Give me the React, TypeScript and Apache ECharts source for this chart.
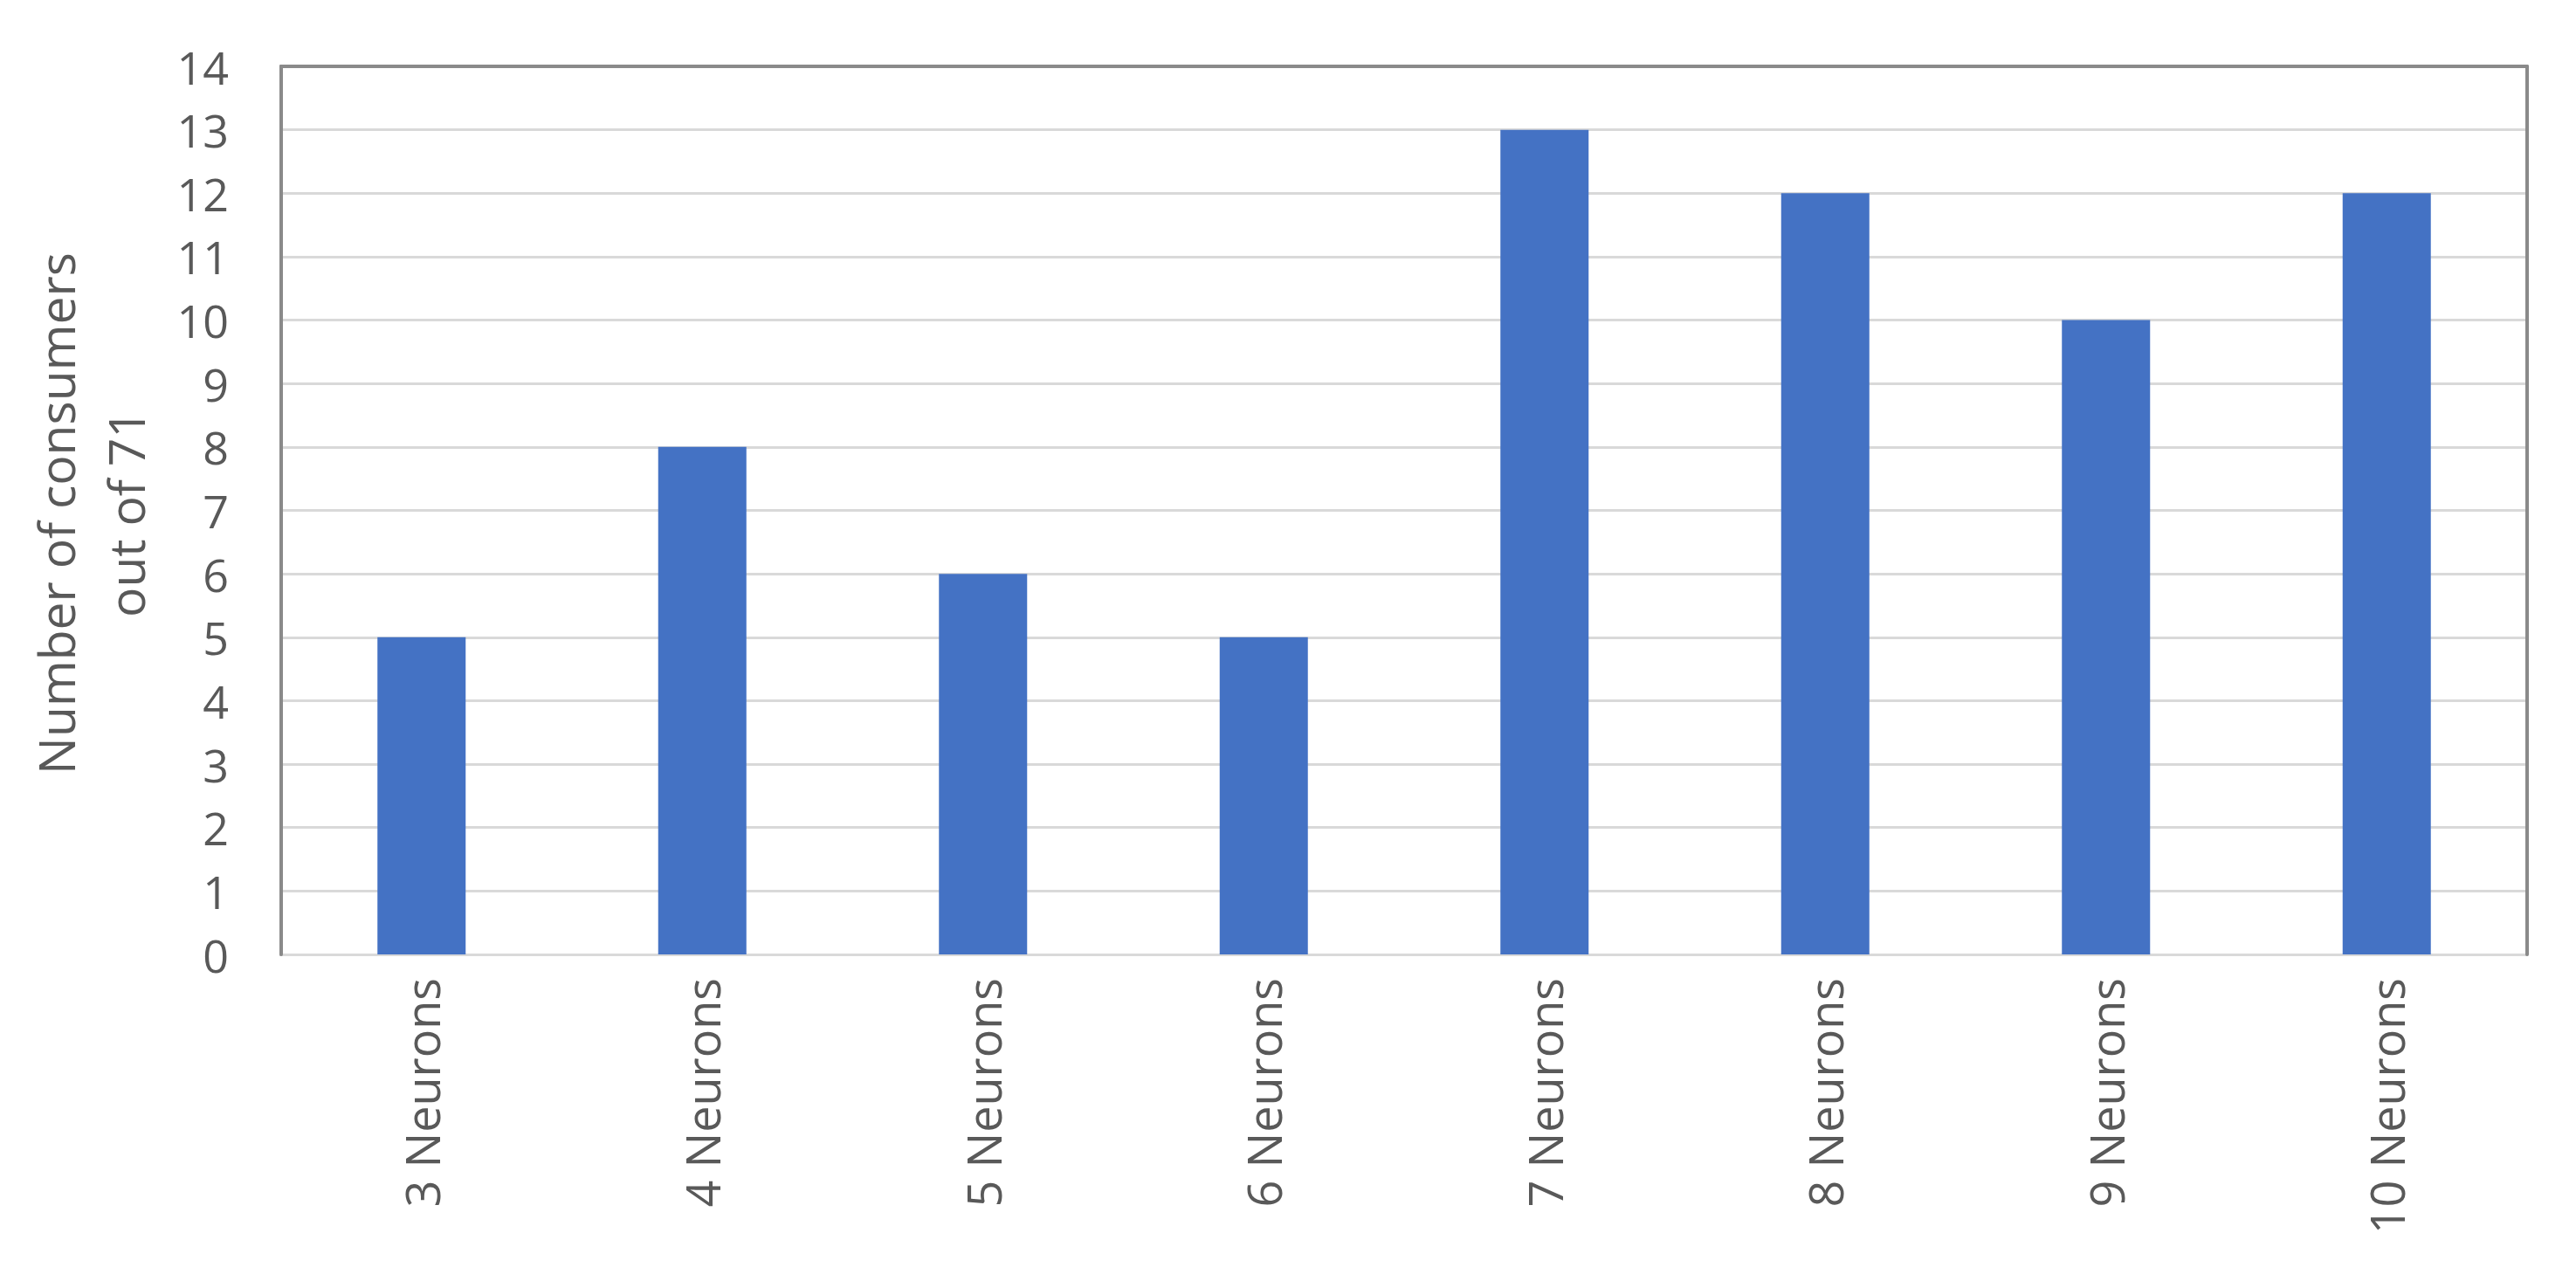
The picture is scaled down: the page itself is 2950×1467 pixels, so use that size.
import React, { useEffect, useRef } from "react";
import * as echarts from "echarts";

const categories = [
  "3 Neurons",
  "4 Neurons",
  "5 Neurons",
  "6 Neurons",
  "7 Neurons",
  "8 Neurons",
  "9 Neurons",
  "10 Neurons",
];
const consumers = [5, 8, 6, 5, 13, 12, 10, 12];
const yTitleLines = ["Number of consumers", "out of 71"];

const FONT = "Open Sans";
const TEXT = "#595959";

export default function App() {
  const ref = useRef<HTMLDivElement>(null);
  useEffect(() => {
    if (!ref.current) return;
    const chart = echarts.init(ref.current, undefined, { renderer: "svg" });
    chart.setOption({
      animation: false,
      backgroundColor: "#ffffff",
      grid: { left: 322, right: 56, top: 76, bottom: 374, containLabel: false },
      xAxis: [
        {
          type: "category",
          data: categories,
          position: "bottom",
          axisLine: { show: true, lineStyle: { color: "#D9D9D9", width: 3 } },
          axisTick: { show: false },
          axisLabel: {
            rotate: 90,
            margin: 27,
            color: TEXT,
            fontFamily: FONT,
            fontSize: 54,
          },
        },
        {
          type: "category",
          data: categories,
          position: "top",
          z: 10,
          axisLine: {
            show: true,
            onZero: false,
            lineStyle: { color: "#8A8A8A", width: 4 },
          },
          axisTick: { show: false },
          axisLabel: { show: false },
        },
      ],
      yAxis: [
        {
          type: "value",
          min: 0,
          max: 14,
          interval: 1,
          position: "left",
          axisLine: { show: true, lineStyle: { color: "#8A8A8A", width: 4 } },
          axisTick: { show: false },
          splitLine: { show: true, lineStyle: { color: "#D9D9D9", width: 3 } },
          axisLabel: {
            margin: 60,
            color: TEXT,
            fontFamily: FONT,
            fontSize: 52,
          },
        },
        {
          type: "value",
          min: 0,
          max: 14,
          interval: 1,
          position: "right",
          z: 10,
          axisLine: { show: true, lineStyle: { color: "#8A8A8A", width: 4 } },
          axisTick: { show: false },
          splitLine: { show: false },
          axisLabel: { show: false },
        },
        {
          type: "value",
          min: 0,
          max: 14,
          interval: 1,
          position: "left",
          z: 10,
          axisLine: { show: true, lineStyle: { color: "#8A8A8A", width: 4 } },
          axisTick: { show: false },
          splitLine: { show: false },
          axisLabel: { show: false },
        },
      ],
      series: [
        {
          type: "bar",
          data: consumers,
          xAxisIndex: 0,
          yAxisIndex: 0,
          barWidth: 101,
          itemStyle: { color: "#4472C4" },
          z: 3,
        },
      ],
      graphic: [
        {
          type: "text",
          x: 104,
          y: 588,
          rotation: Math.PI / 2,
          style: {
            text: yTitleLines.join("\n"),
            fontFamily: FONT,
            fontSize: 57,
            lineHeight: 80,
            fill: TEXT,
            align: "center",
            verticalAlign: "middle",
          },
        },
      ],
    });
    return () => chart.dispose();
  }, []);
  return (
    <div
      ref={ref}
      style={{ position: "fixed", left: 0, top: 0, width: 2950, height: 1467 }}
    />
  );
}
